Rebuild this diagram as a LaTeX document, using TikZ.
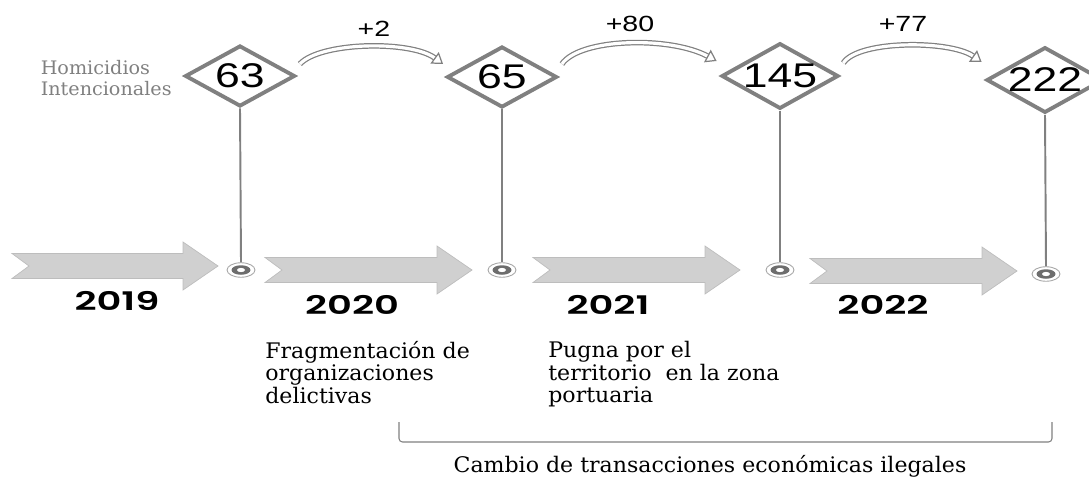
\documentclass[tikz,border=0pt]{standalone}
\usepackage{fontspec}
\usetikzlibrary{shapes.geometric,arrows.meta}
\setmainfont{DejaVu Serif}[FakeStretch=1.03]
\newfontfamily\numfont{Liberation Sans}[FakeStretch=1.3]
\newfontfamily\yearfont{Poppins}[FakeStretch=1.5, BoldFont={Poppins SemiBold}]
\definecolor{linegray}{HTML}{808080}
\definecolor{arrowfill}{HTML}{D0D0D0}
\definecolor{arrowedge}{HTML}{BDBDBD}
\tikzset{
  count/.style={diamond, draw=linegray, line width=2.2pt, fill=white, aspect=1.78,
    minimum width=2.2cm, minimum height=1.22cm, inner sep=0pt,
    font=\numfont\fontsize{19.5}{20}\selectfont},
  pin/.style={ellipse, draw=linegray!70, line width=0.5pt, fill=white,
    minimum width=0.56cm, minimum height=0.29cm, inner sep=0pt,
    path picture={
      \fill[linegray!85!black] (path picture bounding box.center) ellipse (0.19cm and 0.095cm);
      \fill[white] (path picture bounding box.center) ellipse (0.08cm and 0.042cm);}},
  stem/.style={draw=linegray, line width=1.1pt},
  jump/.style={draw=linegray, line width=0.7pt, double=white, double distance=1.8pt,
    -{Triangle[open, length=6pt, width=8pt]}},
  yearlabel/.style={font=\yearfont\bfseries\fontsize{14.6}{15}\selectfont},
  note/.style={align=left, anchor=north west, inner sep=0pt,
    font=\fontsize{12.2}{12.8}\selectfont}
}
\begin{document}
\begin{tikzpicture}[x=0.02cm, y=-0.02cm]
    \useasboundingbox (0,0) rectangle (1089,477);
    % year arrows
    \foreach \xa/\ya/\len in {12/266/206, 265/270/207, 533/270/207, 810/271/207} {
        \filldraw[fill=arrowfill, draw=arrowedge, line width=0.4pt]
            (\xa,\ya-12.5) -- ++(\len-35,0) -- ++(0,-11.5) -- (\xa+\len,\ya)
            -- (\xa+\len-35,\ya+24) -- ++(0,-11.5) -- (\xa,\ya+12.5)
            -- (\xa+17,\ya) -- cycle;
    }
    % homicide counts
    \node[count] (d1) at (240,76) {63};
    \node[count] (d2) at (502,77) {65};
    \node[count] (d3) at (780,76) {145};
    \node[count] (d4) at (1045,80) {222};
    \node[pin] (c1) at (241,270) {};
    \node[pin] (c2) at (502,270) {};
    \node[pin] (c3) at (780,270) {};
    \node[pin] (c4) at (1046,274) {};
    \foreach \i in {1,...,4} \draw[stem] (d\i.south) -- (c\i.north);
    \node[align=left, anchor=east, text=linegray, inner sep=0pt,
      font=\fontsize{10.6}{12}\selectfont] (hlabel) at (172,78) {Homicidios\\Intencionales};
    % increments
    \draw[jump] ([shift={(3,-12)}]d1.east) .. controls (320,42) and (410,40) .. ([shift={(-2,-13)}]d2.west);
    \draw[jump] ([shift={(3,-13)}]d2.east) .. controls (580,38) and (670,36) .. ([shift={(-3,-15)}]d3.west);
    \draw[jump] ([shift={(3,-13)}]d3.east) .. controls (858,40) and (950,40) .. ([shift={(-3,-18)}]d4.west);
    \node[font=\numfont\fontsize{12.5}{13}\selectfont] (inc1) at (374,29) {+2};
    \node[font=\numfont\fontsize{12.5}{13}\selectfont] (inc2) at (630,24) {+80};
    \node[font=\numfont\fontsize{12.5}{13}\selectfont] (inc3) at (903,24) {+77};
    % years
    \node[yearlabel] (y2019) at (117,301) {2019};
    \node[yearlabel] (y2020) at (352,305) {2020};
    \node[yearlabel] (y2021) at (608,305) {2021};
    \node[yearlabel] (y2022) at (883,305) {2022};
    % causes
    \node[note] (frag) at (265,341) {Fragmentación de\\organizaciones\\delictivas};
    \node[note] (pugna) at (548,341) {Pugna por el\\territorio \ en la zona\\portuaria};
    \coordinate (bl) at (399,422);
    \coordinate (br) at (1052,422);
    \draw[linegray, line width=0.6pt, rounded corners=2pt] (bl) |- (725,442) -| (br);
    \node[font=\fontsize{12.2}{13}\selectfont] (cambio) at (710,466) {Cambio de transacciones económicas ilegales};
\end{tikzpicture}
\end{document}
